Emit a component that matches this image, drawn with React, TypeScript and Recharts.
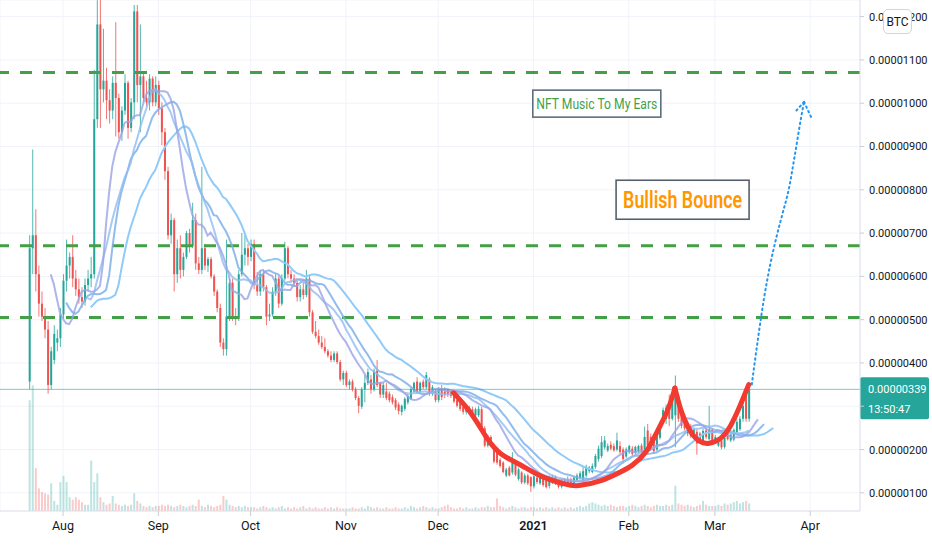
import React from 'react';
import {
  ComposedChart,
  Bar,
  Line,
  XAxis,
  YAxis,
  CartesianGrid,
  ReferenceLine,
  ReferenceDot,
} from 'recharts';

// day 0 = 1 Aug 2020, one daily candle per row. Prices in satoshi: [open, high, low, close]
const FIRST_DAY = -11; // 21 Jul 2020

const julCandles = [
  [357, 695, 339, 665], [665, 893, 605, 695], [695, 755, 565, 605], [605, 625, 507, 537],
  [537, 565, 497, 507], [507, 527, 457, 477], [477, 497, 329, 349], [349, 437, 339, 427],
  [407, 487, 397, 467], [447, 477, 427, 457], [457, 527, 437, 512],
];
const augCandles = [
  [512, 605, 502, 590], [590, 685, 565, 625], [625, 655, 595, 645], [645, 695, 575, 595],
  [595, 615, 555, 570], [570, 595, 537, 552], [552, 575, 527, 542], [542, 595, 532, 580],
  [580, 615, 565, 595], [595, 645, 575, 605], [605, 1077, 595, 963], [963, 1238, 943, 1182],
  [1182, 1238, 943, 1032], [1032, 1172, 1002, 1052], [1052, 1082, 963, 1007], [1007, 1032, 953, 983],
  [983, 1062, 963, 1047], [1047, 1187, 923, 1012], [1012, 1022, 918, 933], [933, 993, 913, 983],
  [983, 1067, 973, 1047], [1047, 1052, 918, 943], [943, 1012, 933, 1002], [1002, 1227, 963, 1212],
  [1212, 1227, 1002, 1042], [1042, 1182, 933, 1062], [1062, 1072, 1002, 1012], [1012, 1052, 993, 1002],
  [1002, 1067, 983, 1057], [1057, 1062, 993, 1002], [1002, 1062, 993, 1042],
];
const sepCandles = [
  [1042, 1052, 973, 988], [988, 1002, 903, 933], [933, 943, 823, 843], [843, 853, 685, 695],
  [695, 745, 675, 730], [730, 735, 565, 605], [605, 685, 585, 665], [665, 695, 595, 615],
  [615, 655, 600, 645], [645, 705, 640, 700], [700, 710, 655, 670], [670, 770, 665, 730],
  [730, 745, 615, 630], [630, 645, 605, 615], [615, 853, 605, 665], [665, 675, 615, 625],
  [625, 645, 610, 640], [640, 645, 595, 600], [600, 605, 555, 565], [565, 570, 517, 527],
  [527, 537, 437, 447], [447, 457, 417, 432], [432, 685, 417, 507], [507, 595, 497, 585],
  [585, 595, 497, 507], [507, 527, 487, 502], [502, 615, 497, 605], [605, 700, 600, 650],
  [650, 695, 625, 665], [665, 675, 625, 645],
];
const octCandles = [
  [645, 685, 635, 675], [675, 685, 570, 580], [580, 610, 555, 565], [565, 615, 555, 605],
  [605, 615, 565, 575], [575, 580, 487, 507], [507, 537, 497, 512], [512, 575, 507, 565],
  [565, 605, 555, 595], [595, 600, 527, 537], [537, 605, 532, 595], [595, 680, 590, 665],
  [665, 670, 595, 605], [605, 615, 585, 595], [595, 605, 575, 585], [585, 590, 542, 552],
  [552, 580, 542, 570], [570, 585, 547, 557], [557, 615, 552, 595], [595, 605, 507, 517],
  [517, 522, 467, 472], [472, 497, 457, 462], [462, 477, 442, 447], [447, 462, 432, 437],
  [437, 457, 422, 427], [427, 432, 412, 417], [417, 427, 402, 407], [407, 427, 402, 422],
  [422, 427, 397, 402], [402, 407, 357, 362], [362, 382, 349, 377],
];
const novCandles = [
  [377, 382, 344, 349], [349, 362, 339, 357], [357, 362, 334, 339], [339, 344, 314, 319],
  [319, 324, 284, 301], [299, 344, 294, 339], [339, 372, 309, 354], [354, 387, 349, 379],
  [362, 372, 329, 339], [339, 387, 334, 382], [382, 407, 344, 349], [354, 357, 319, 327],
  [327, 354, 319, 349], [334, 354, 314, 319], [329, 334, 309, 314], [321, 327, 304, 309],
  [314, 319, 291, 297], [304, 309, 281, 289], [287, 304, 279, 301], [294, 321, 289, 317],
  [309, 329, 304, 324], [317, 344, 314, 339], [334, 357, 331, 354], [357, 367, 329, 334],
  [334, 357, 329, 354], [357, 362, 339, 344], [344, 379, 339, 372], [362, 367, 324, 329],
  [329, 349, 324, 344], [334, 339, 309, 314],
];
const decCandles = [
  [314, 344, 309, 339], [339, 349, 314, 321], [334, 344, 319, 327], [339, 341, 321, 327],
  [334, 339, 319, 324], [331, 334, 307, 311], [314, 319, 297, 301], [307, 311, 289, 294],
  [299, 304, 281, 287], [287, 304, 281, 299], [289, 301, 284, 297], [293, 299, 274, 279],
  [279, 297, 274, 293], [279, 301, 275, 294], [293, 299, 244, 249], [249, 254, 205, 209],
  [209, 234, 205, 229], [229, 233, 206, 209], [209, 214, 168, 172], [192, 196, 165, 170],
  [176, 180, 158, 162], [170, 173, 145, 148], [140, 158, 136, 154], [158, 162, 138, 140],
  [147, 194, 142, 170], [165, 168, 138, 142], [132, 158, 128, 154], [147, 150, 120, 124],
  [124, 145, 120, 140], [140, 144, 118, 122], [136, 138, 102, 115],
];
const janCandles = [
  [115, 142, 110, 138], [135, 138, 120, 125], [122, 138, 118, 135], [132, 136, 114, 118],
  [128, 130, 110, 113], [116, 140, 110, 130], [124, 142, 120, 137], [137, 140, 118, 122],
  [125, 130, 110, 114], [114, 132, 110, 128], [128, 134, 116, 120], [120, 138, 115, 132],
  [132, 135, 113, 118], [118, 140, 115, 135], [130, 145, 125, 140], [135, 150, 130, 145],
  [128, 160, 122, 150], [140, 165, 135, 160], [150, 162, 145, 158], [148, 168, 145, 162],
  [160, 190, 155, 185], [178, 209, 172, 202], [185, 231, 180, 217], [205, 231, 200, 221],
  [198, 214, 194, 208], [211, 219, 198, 202], [208, 214, 195, 198], [200, 239, 196, 221],
  [208, 219, 190, 194], [200, 205, 168, 178], [184, 205, 180, 200],
];
const febCandles = [
  [194, 211, 190, 208], [202, 208, 185, 190], [192, 209, 188, 206], [196, 211, 192, 208],
  [209, 214, 192, 196], [200, 253, 198, 229], [244, 259, 206, 209], [229, 237, 198, 202],
  [221, 227, 190, 196], [200, 249, 196, 244], [227, 265, 223, 259], [262, 297, 259, 291],
  [271, 304, 259, 297], [309, 327, 254, 271], [271, 334, 267, 309], [279, 371, 205, 324],
  [324, 329, 264, 271], [284, 289, 249, 255], [271, 277, 244, 249], [237, 267, 231, 259],
  [254, 259, 227, 231], [229, 251, 224, 247], [241, 247, 188, 214], [237, 241, 214, 217],
  [219, 249, 215, 243], [244, 249, 224, 229], [224, 301, 221, 247], [245, 249, 217, 221],
];
const marCandles = [
  [217, 234, 213, 229], [209, 227, 206, 221], [221, 225, 200, 205], [206, 234, 202, 227],
  [237, 241, 221, 224], [221, 241, 217, 235], [223, 249, 219, 245], [239, 271, 235, 264],
  [247, 277, 243, 271], [271, 309, 264, 301], [339, 344, 264, 271], [271, 354, 264, 339],
];

// daily volume, arbitrary units
const julVolume = [88, 100, 34, 18, 15, 14, 13, 22, 8, 5, 23];
const augVolume = [28, 23, 11, 9, 11, 9, 7, 5, 5, 40, 23, 30, 11, 7, 5, 6, 12, 6, 5, 4, 5, 4, 5, 14, 8, 6, 4, 3, 4, 3, 4];
const sepVolume = [4, 5, 4, 5, 4, 3, 4, 5, 4, 3, 4, 5, 4, 9, 4, 3, 5, 4, 3, 4, 5, 12, 9, 5, 4, 3, 4, 3, 4, 3];
const octVolume = [3, 3, 2, 3, 4, 3, 2, 3, 2, 3, 4, 2, 3, 2, 3, 2, 3, 4, 2, 3, 2, 3, 2, 2, 3, 2, 3, 2, 3, 2, 2];
const novVolume = [2, 2, 3, 2, 2, 3, 2, 4, 3, 2, 3, 2, 2, 3, 2, 2, 3, 2, 2, 3, 2, 4, 3, 2, 3, 4, 3, 2, 3, 2];
const decVolume = [2, 3, 4, 5, 3, 2, 2, 3, 2, 3, 2, 2, 3, 2, 3, 3, 4, 3, 3, 10, 4, 3, 2, 3, 4, 3, 2, 3, 3, 2, 3];
const janVolume = [3, 2, 3, 2, 3, 2, 3, 2, 3, 2, 3, 2, 3, 2, 3, 4, 3, 4, 6, 7, 6, 5, 4, 5, 4, 5, 4, 3, 4, 4, 3];
const febVolume = [4, 5, 4, 3, 4, 5, 4, 3, 4, 5, 4, 4, 5, 4, 5, 20, 6, 5, 4, 5, 4, 3, 4, 5, 8, 5, 4, 4];
const marVolume = [4, 5, 4, 6, 5, 6, 7, 8, 6, 7, 8, 6];

const monthTicks = [0, 31, 61, 92, 122, 153, 184, 212, 243];
const monthLabels = ['Aug', 'Sep', 'Oct', 'Nov', 'Dec', '2021', 'Feb', 'Mar', 'Apr'];
const priceTicks = [100, 200, 300, 400, 500, 600, 700, 800, 900, 1000, 1100, 1200];
const levelLines = [1071, 671, 505];
const lastPrice = 339;
const countdown = '13:50:47';

// hand-drawn cup & handle, [day, price]
const cupLeft = [
  [127, 331], [133, 285], [138, 222], [142, 188], [149, 165], [155, 137], [164, 118], [167, 114],
  [175, 126], [181, 147], [185, 161], [190, 193], [193, 239], [197, 292], [199, 342],
];
const cupRight = [
  [199, 342], [201, 285], [204, 239], [207, 216], [210, 212], [214, 223], [217, 251], [220, 297], [223, 350],
];
// dotted projection arrow, [day, price]
const targetArrow = [
  [224, 350], [226, 455], [228, 550], [230, 627], [232, 690], [234, 745], [236, 800], [238, 880], [240, 965], [241, 1003],
];

const UP = '#26a69a';
const DOWN = '#ef5350';

const candles = [...julCandles, ...augCandles, ...sepCandles, ...octCandles, ...novCandles, ...decCandles, ...janCandles, ...febCandles, ...marCandles];
const volumes = [...julVolume, ...augVolume, ...sepVolume, ...octVolume, ...novVolume, ...decVolume, ...janVolume, ...febVolume, ...marVolume];

const smma = (src: number[], n: number) => {
  const out: (number | undefined)[] = src.map(() => undefined);
  let prev = 0;
  src.forEach((v, i) => {
    if (i < n - 1) return;
    prev = i === n - 1 ? src.slice(0, n).reduce((a, b) => a + b, 0) / n : (prev * (n - 1) + v) / n;
    out[i] = prev;
  });
  return out;
};
const sma = (src: number[], n: number) =>
  src.map((_, i) => (i < n - 1 ? undefined : src.slice(i - n + 1, i + 1).reduce((a, b) => a + b, 0) / n));

const medians = candles.map((c) => (c[1] + c[2]) / 2);
const closes = candles.map((c) => c[3]);
const jawRaw = smma(medians, 13);
const teethRaw = smma(medians, 8);
const lipsRaw = smma(medians, 5);
const sma20 = sma(closes, 20);

const LAST_DAY = 241;
const rows: any[] = [];
for (let d = FIRST_DAY; d <= LAST_DAY; d++) {
  const i = d - FIRST_DAY;
  const row: any = { d };
  const c = candles[i];
  if (c) {
    row.open = c[0];
    row.high = c[1];
    row.low = c[2];
    row.close = c[3];
    row.vol = volumes[i];
    row.sma = sma20[i];
  }
  row.jaw = jawRaw[i - 8];
  row.teeth = teethRaw[i - 5];
  row.lips = lipsRaw[i - 3];
  rows.push(row);
}
const rowAt = (d: number) => rows[d - FIRST_DAY];
cupLeft.forEach(([d, v]) => (rowAt(d).cupL = v));
cupRight.forEach(([d, v]) => (rowAt(d).cupR = v));
targetArrow.forEach(([d, v]) => (rowAt(d).arrow = v));
const arrowTip = targetArrow[targetArrow.length - 1][0];

const fmt = (v: number) => (v / 1e8).toFixed(8);
const FONT = 'Roboto, "Noto Sans", sans-serif';

const CandleShape = (props: any) => {
  const { x, y, width, height, payload } = props;
  if (!payload || payload.open == null || height == null) return <g />;
  const top = Math.min(y, y + height);
  const h = Math.abs(height);
  const { open, high, low, close } = payload;
  const k = high > low ? h / (high - low) : 0;
  const py = (v: number) => top + (high - v) * k;
  const cx = x + width / 2;
  const color = close >= open ? UP : DOWN;
  const bTop = py(Math.max(open, close));
  const bH = Math.max(1, Math.abs(py(open) - py(close)));
  return (
    <g>
      <line x1={cx} x2={cx} y1={top} y2={top + h} stroke={color} strokeWidth={1} strokeOpacity={0.8} />
      <rect x={x} y={bTop} width={width} height={bH} fill={color} />
    </g>
  );
};

const VolumeShape = (props: any) => {
  const { x, y, width, height, payload } = props;
  if (!payload || !height) return <g />;
  const color = payload.close >= payload.open ? UP : DOWN;
  return <rect x={x} y={y} width={width} height={height} fill={color} fillOpacity={0.3} />;
};

const MonthTick = (props: any) => {
  const { x, y, payload } = props;
  const label = monthLabels[monthTicks.indexOf(payload.value)];
  return (
    <text x={x} y={y} dy={12} textAnchor="middle" fill="#131722" fontSize={12.5} fontFamily={FONT} fontWeight={label === '2021' ? 600 : 400}>
      {label}
    </text>
  );
};

const PriceTick = (props: any) => {
  const { x, y, payload } = props;
  if (payload.value === 300) return <g />;
  return (
    <text x={x} y={y} dy={4} textAnchor="start" fill="#131722" fontSize={11} fontFamily={FONT}>
      {fmt(payload.value)}
    </text>
  );
};

const PriceTag = (props: any) => {
  const { viewBox } = props;
  if (!viewBox) return null;
  const left = viewBox.x + viewBox.width;
  const y = viewBox.y;
  return (
    <g>
      <rect x={left} y={y - 12} width={69} height={42} rx={2} fill={UP} />
      <text x={left + 8} y={y + 4} fill="#fff" fontSize={11} fontFamily={FONT}>
        {fmt(lastPrice)}
      </text>
      <text x={left + 8} y={y + 24} fill="#fff" fontSize={11} fontFamily={FONT}>
        {countdown}
      </text>
    </g>
  );
};

const ArrowDot = (props: any) => {
  const { cx, cy, payload, index } = props;
  if (!payload || payload.d !== arrowTip || cx == null) return <g key={index} />;
  return (
    <g key={index} stroke="#2196f3" strokeWidth={2} strokeDasharray="1.5 3.5" strokeLinecap="round" fill="none">
      <line x1={cx} y1={cy} x2={cx - 8} y2={cy + 9} />
      <line x1={cx} y1={cy} x2={cx + 7} y2={cy + 15} />
    </g>
  );
};

const noteBox = (text: string, w: number, h: number, color: string, border: string, size: number, weight: number, textW: number) =>
  (p: any) => (
    <g>
      <rect x={p.cx - w / 2} y={p.cy - h / 2} width={w} height={h} fill="#fff" stroke={border} strokeWidth={1.6} />
      <text
        x={p.cx}
        y={p.cy}
        dy={size * 0.35}
        textAnchor="middle"
        fill={color}
        fontSize={size}
        fontWeight={weight}
        fontFamily={FONT}
        textLength={textW}
        lengthAdjust="spacingAndGlyphs"
      >
        {text}
      </text>
    </g>
  );

const App: React.FC = () => {
  return (
    <div style={{ position: 'relative', width: 932, height: 550, background: '#fff' }}>
      <style>{'body{margin:0;background:#fff}'}</style>
      <ComposedChart width={932} height={550} data={rows} margin={{ top: 0, right: 0, bottom: 0, left: 0 }}>
        <CartesianGrid stroke="#f0f3fa" xAxisId="main" yAxisId="price" />
        <XAxis
          xAxisId="main"
          type="number"
          dataKey="d"
          domain={[-20.5, 259.2]}
          allowDataOverflow
          ticks={monthTicks}
          interval={0}
          tick={<MonthTick />}
          tickSize={5}
          tickLine={{ stroke: '#c9ccd4' }}
          axisLine={{ stroke: '#e0e3eb' }}
          height={39}
        />
        <XAxis xAxisId="vol" type="number" dataKey="d" domain={[-20.5, 259.2]} allowDataOverflow hide />
        <YAxis
          yAxisId="price"
          orientation="right"
          width={72}
          domain={[58, 1238.4]}
          allowDataOverflow
          ticks={priceTicks}
          interval={0}
          tick={<PriceTick />}
          tickSize={4}
          tickMargin={5}
          tickLine={{ stroke: '#c9ccd4' }}
          axisLine={{ stroke: '#e0e3eb' }}
        />
        <YAxis yAxisId="vol" domain={[0, 406]} allowDataOverflow hide />

        <Bar xAxisId="vol" yAxisId="vol" dataKey="vol" barSize={2} shape={VolumeShape} isAnimationActive={false} />

        {levelLines.map((v) => (
          <ReferenceLine key={v} xAxisId="main" yAxisId="price" y={v} stroke="#43a047" strokeWidth={3} strokeDasharray="12 11" />
        ))}

        <Line xAxisId="main" yAxisId="price" dataKey="jaw" stroke="#90caf9" strokeWidth={2} dot={false} activeDot={false} isAnimationActive={false} />
        <Line xAxisId="main" yAxisId="price" dataKey="teeth" stroke="#7fb0ea" strokeWidth={2} strokeOpacity={0.85} dot={false} activeDot={false} isAnimationActive={false} />
        <Line xAxisId="main" yAxisId="price" dataKey="sma" stroke="#8fbdf0" strokeWidth={2} strokeOpacity={0.8} dot={false} activeDot={false} isAnimationActive={false} />
        <Line xAxisId="main" yAxisId="price" dataKey="lips" stroke="#9aa3e6" strokeWidth={2} strokeOpacity={0.8} dot={false} activeDot={false} isAnimationActive={false} />

        <Bar
          xAxisId="main"
          yAxisId="price"
          dataKey={(r: any) => (r.open == null ? undefined : [r.low, r.high])}
          barSize={2}
          shape={CandleShape}
          isAnimationActive={false}
        />

        <ReferenceLine xAxisId="main" yAxisId="price" y={lastPrice} stroke={UP} strokeOpacity={0.6} strokeWidth={1} label={<PriceTag />} />

        <Line xAxisId="main" yAxisId="price" dataKey="cupL" type="basis" connectNulls stroke="#f23a30" strokeWidth={5} strokeLinecap="round" dot={false} activeDot={false} isAnimationActive={false} />
        <Line xAxisId="main" yAxisId="price" dataKey="cupR" type="basis" connectNulls stroke="#f23a30" strokeWidth={5} strokeLinecap="round" dot={false} activeDot={false} isAnimationActive={false} />
        <Line
          xAxisId="main"
          yAxisId="price"
          dataKey="arrow"
          type="monotone"
          connectNulls
          stroke="#2196f3"
          strokeWidth={2}
          strokeDasharray="1.5 3.5"
          strokeLinecap="round"
          dot={ArrowDot}
          activeDot={false}
          isAnimationActive={false}
        />

        <ReferenceDot
          xAxisId="main"
          yAxisId="price"
          x={173.6}
          y={999}
          shape={noteBox('NFT Music To My Ears', 128, 27, '#43a047', '#5f6e7c', 15, 400, 121)}
        />
        <ReferenceDot
          xAxisId="main"
          yAxisId="price"
          x={201.5}
          y={777}
          shape={noteBox('Bullish Bounce', 133, 39, '#ff9800', '#56616d', 23, 600, 119)}
        />
      </ComposedChart>
      <div
        style={{
          position: 'absolute',
          left: 883,
          top: 9,
          width: 27,
          height: 23,
          border: '1px solid #d1d4dc',
          borderRadius: 5,
          background: '#fff',
          fontFamily: FONT,
          fontSize: 12,
          color: '#131722',
          display: 'flex',
          alignItems: 'center',
          justifyContent: 'center',
        }}
      >
        BTC
      </div>
    </div>
  );
};

export default App;
